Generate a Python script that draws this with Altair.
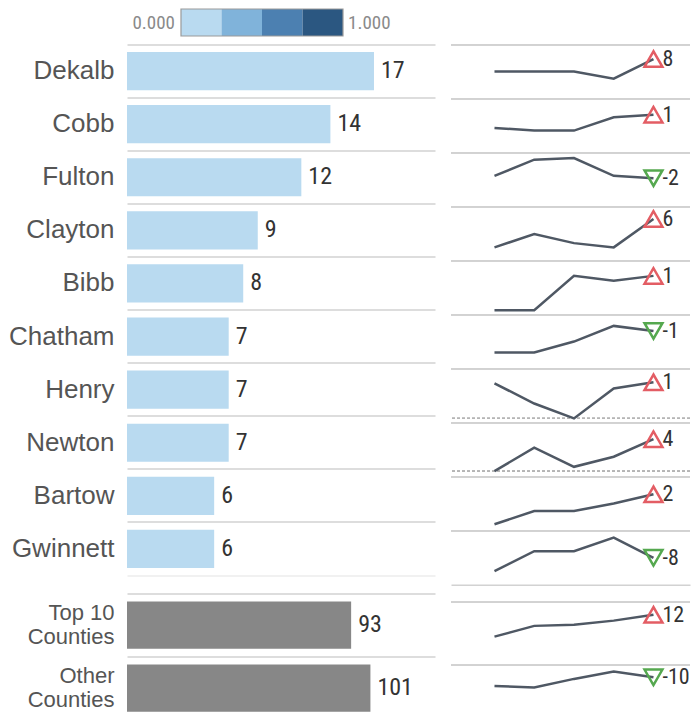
import altair as alt
import pandas as pd

# ---------------- data ----------------
counties = ["Dekalb", "Cobb", "Fulton", "Clayton", "Bibb",
            "Chatham", "Henry", "Newton", "Bartow", "Gwinnett"]
county_counts = [17, 14, 12, 9, 8, 7, 7, 7, 6, 6]
county_shade = [0, 0, 0, 0, 0, 0, 0, 0, 0, 0]

groups = ["Top 10 Counties", "Other Counties"]
group_counts = [93, 101]

periods = [1, 2, 3, 4, 5]
county_trend = [
    [9.9, 9.9, 9.9, 7.2, 14.6],
    [9.0, 8.0, 8.0, 13.0, 14.0],
    [11.3, 17.4, 18.0, 11.3, 10.4],
    [4.7, 9.7, 6.3, 4.7, 15.4],
    [1.4, 1.4, 14.3, 12.5, 14.3],
    [5.8, 5.8, 9.9, 15.8, 13.9],
    [14.5, 6.9, 1.3, 12.6, 14.9],
    [1.8, 10.6, 3.4, 7.2, 13.8],
    [2.1, 7.1, 7.1, 9.9, 13.4],
    [4.8, 12.3, 12.3, 17.4, 9.8],
]
county_change = [8, 1, -2, 6, 1, -1, 1, 4, 2, -8]

group_trend = [
    [10.9, 15.0, 15.4, 17.0, 19.2],
    [16.1, 15.5, 18.8, 21.6, 19.4],
]
group_change = [12, -10]

ref_counties = ["Henry", "Newton"]
ref_values = [1.3, 1.8]

legend_stops = [0.0, 0.25, 0.5, 0.75, 1.0]
legend_colors = ["#b9daf0", "#80b3da", "#4c80b1", "#2b5781"]

# ---------------- styles ----------------
SANS = "Liberation Sans, Arial, sans-serif"
NARROW = ("Liberation Sans Narrow, Roboto Condensed, DejaVu Sans Condensed, "
          "Open Sans Condensed, Arial Narrow, Liberation Sans, sans-serif")
SEP = "#d2d2d2"
LINE = "#4f5864"
UP = "#e35d64"
DOWN = "#55a84f"
PANEL_W = 308
SPARK_W = 239

# ---------------- tables ----------------
bar_df = pd.DataFrame({"county": counties, "count": county_counts, "shade": county_shade})
grp_df = pd.DataFrame({"group": groups, "count": group_counts})


def spark_table(names, trends, changes, key):
    rows = []
    for n, vals, ch in zip(names, trends, changes):
        for p, v in zip(periods, vals):
            rows.append({key: n, "period": p, "value": v, "change": ch,
                         "dir": "up" if ch > 0 else "down",
                         "lbl": ("\u00a0" + str(ch)) if ch > 0 else str(ch)})
    return pd.DataFrame(rows)


spark_df = spark_table(counties, county_trend, county_change, "county")
spark_df["ref"] = spark_df["county"].map(dict(zip(ref_counties, ref_values)))
gspark_df = spark_table(groups, group_trend, group_change, "group")


def spacer(w, h):
    return alt.Chart(pd.DataFrame({"s": [0]})).mark_rect(opacity=0).encode(
        x=alt.value(0), x2=alt.value(w), y=alt.value(0), y2=alt.value(h)
    ).properties(width=w, height=h)


# ---------------- legend ----------------
leg_cells = pd.DataFrame({"lo": legend_stops[:-1], "hi": legend_stops[1:], "col": legend_colors})
leg_box = pd.DataFrame({"lo": [legend_stops[0]], "hi": [legend_stops[-1]]})
leg_lo = pd.DataFrame({"v": [legend_stops[0]], "txt": [f"{legend_stops[0]:.3f}"]})
leg_hi = pd.DataFrame({"v": [legend_stops[-1]], "txt": [f"{legend_stops[-1]:.3f}"]})
leg_x = alt.Scale(domain=[-0.3333, 1.5679], nice=False, zero=False)

cells = alt.Chart(leg_cells).mark_rect().encode(
    x=alt.X("lo:Q", scale=leg_x, axis=None), x2="hi:Q",
    color=alt.Color("col:N", scale=None))
box = alt.Chart(leg_box).mark_rect(fill="transparent", stroke="#9a9a9a", strokeWidth=1.2).encode(
    x=alt.X("lo:Q", scale=leg_x, axis=None), x2="hi:Q")
lab_lo = alt.Chart(leg_lo).mark_text(align="right", dx=-6, font=NARROW, fontSize=19, color="#8a8a8a").encode(
    x=alt.X("v:Q", scale=leg_x, axis=None), text="txt:N")
lab_hi = alt.Chart(leg_hi).mark_text(align="left", dx=5, font=NARROW, fontSize=19, color="#8a8a8a").encode(
    x=alt.X("v:Q", scale=leg_x, axis=None), text="txt:N")
legend = alt.layer(cells, box, lab_lo, lab_hi).properties(width=PANEL_W, height=27)

# ---------------- bars (counties) ----------------
base_top = alt.Chart(bar_df).encode(
    y=alt.Y("county:N", sort=counties, title=None,
            scale=alt.Scale(paddingInner=0, paddingOuter=0),
            axis=alt.Axis(domain=False, ticks=False, labelPadding=13, labelFontSize=26,
                          labelColor="#555555", labelFont=SANS, labelLimit=300,
                          grid=True, gridColor=SEP, gridWidth=1.5, bandPosition=0)),
    x=alt.X("count:Q", title=None, scale=alt.Scale(domain=[0, 21.2], nice=False),
            axis=alt.Axis(labels=False, ticks=False, grid=False, domain=True,
                          domainColor="#ececec", domainWidth=1.5)),
)
bars_top = alt.layer(
    base_top.mark_bar(height={"band": 0.72}).encode(
        color=alt.Color("shade:Q", legend=None,
                        scale=alt.Scale(type="quantize", domain=[0, 1], range=legend_colors))),
    base_top.mark_text(align="left", dx=7, font=NARROW, fontSize=24, color="#333333").encode(
        text="count:Q"),
).properties(width=PANEL_W, height=531)

# ---------------- bars (groups) ----------------
base_bot = alt.Chart(grp_df).encode(
    y=alt.Y("group:N", sort=groups, title=None,
            scale=alt.Scale(paddingInner=0, paddingOuter=0),
            axis=alt.Axis(domain=False, ticks=False, labelPadding=13, labelFontSize=22,
                          labelColor="#555555", labelFont=SANS, labelLimit=300,
                          labelLineHeight=24, labelOffset=-12,
                          labelExpr="[replace(datum.label, ' Counties', ''), 'Counties']",
                          grid=True, gridColor=SEP, gridWidth=1.5, bandPosition=0)),
    x=alt.X("count:Q", title=None, scale=alt.Scale(domain=[0, 127.8], nice=False), axis=None),
)
bars_bot = alt.layer(
    base_bot.mark_bar(height={"band": 0.75}, color="#878787"),
    base_bot.mark_text(align="left", dx=7, font=NARROW, fontSize=24, color="#333333").encode(
        text="count:Q"),
).properties(width=PANEL_W, height=126)


# ---------------- sparklines ----------------
def spark(df, key, names, ydom, cell_h, bottom_line, with_ref):
    xs = alt.X("period:Q", scale=alt.Scale(domain=[-0.094, 5.919], nice=False, zero=False),
               axis=alt.Axis(labels=False, ticks=False, grid=False, title=None,
                             domain=bottom_line, domainColor=SEP, domainWidth=1.5))
    ys = alt.Y("value:Q", scale=alt.Scale(domain=ydom, nice=False, zero=False), axis=None)
    sep = alt.Chart().mark_rule(color=SEP, strokeWidth=1.5).encode(y=alt.value(0))
    line = alt.Chart().mark_line(color=LINE, strokeWidth=2.5).encode(x=xs, y=ys)
    last = alt.Chart().transform_filter("datum.period == 5")
    tri = last.mark_point(filled=False, size=320, strokeWidth=2.5, opacity=1).encode(
        x=xs, y=ys,
        shape=alt.Shape("dir:N", legend=None,
                        scale=alt.Scale(domain=["up", "down"], range=["triangle-up", "triangle-down"])),
        color=alt.Color("dir:N", legend=None,
                        scale=alt.Scale(domain=["up", "down"], range=[UP, DOWN])))
    lbl = last.mark_text(align="left", dx=9, font=NARROW, fontSize=22, color="#333333").encode(
        x=xs, y=ys, text="lbl:N")
    layers = [sep]
    if with_ref:
        layers.append(alt.Chart().transform_filter("isValid(datum.ref)").mark_rule(
            color="#b5b5b5", strokeDash=[3, 2], strokeWidth=1.2).encode(
            y=alt.Y("ref:Q", scale=alt.Scale(domain=ydom, nice=False, zero=False), axis=None)))
    layers += [line, tri, lbl]
    return alt.layer(*layers, data=df).properties(width=SPARK_W, height=cell_h).facet(
        row=alt.Row(f"{key}:N", sort=names, header=None), spacing=0, bounds="flush")


spark_top = spark(spark_df, "county", counties, [0, 20], 53.1, True, True)
spark_bot = spark(gspark_df, "group", groups, [0, 24], 63, False, False)

# ---------------- assemble ----------------
left_col = alt.vconcat(legend, bars_top, spacer(PANEL_W, 1), bars_bot,
                       spacing=8.5, bounds="flush")
right_col = alt.vconcat(spacer(SPARK_W, 27), spark_top, spacer(SPARK_W, 1), spark_bot,
                        spacing=7.75, bounds="full")

chart = alt.hconcat(left_col, right_col, spacing=15, bounds="full").properties(
    padding=0, background="white"
).configure_view(stroke=None).resolve_scale(color="independent", shape="independent")

chart.save("out.html", embed_options={"renderer": "svg", "actions": False})
